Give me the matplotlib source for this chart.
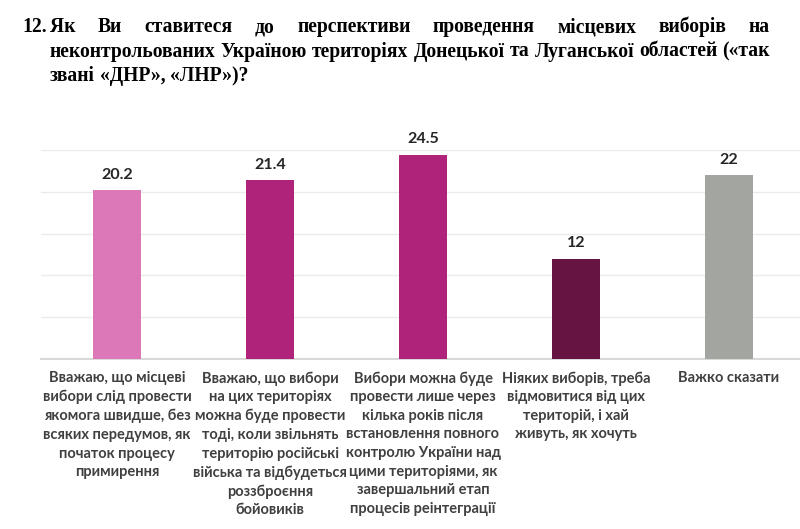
import matplotlib
matplotlib.use("Agg")
import matplotlib.pyplot as plt

categories = [
    "Вважаю, що місцеві\nвибори слід провести\nякомога швидше, без\nвсяких передумов, як\nпочаток процесу\nпримирення",
    "Вважаю, що вибори\nна цих територіях\nможна буде провести\nтоді, коли звільнять\nтериторію російські\nвійська та відбудеться\nроззброєння\nбойовиків",
    "Вибори можна буде\nпровести лише через\nкілька років після\nвстановлення повного\nконтролю України над\nцими територіями, як\nзавершальний етап\nпроцесів реінтеграції",
    "Ніяких виборів, треба\nвідмовитися від цих\nтериторій, і хай\nживуть, як хочуть",
    "Важко сказати",
]
values = [20.2, 21.4, 24.5, 12, 22]
value_labels = ["20.2", "21.4", "24.5", "12", "22"]
colors = ["#DC78B8", "#B0237A", "#B0237A", "#661442", "#A3A5A0"]
title_lines = [
    "Як Ви ставитеся до перспективи проведення місцевих виборів на",
    "неконтрольованих Україною територіях Донецької та Луганської областей («так",
    "звані «ДНР», «ЛНР»)?",
]
title_number = "12."

W, H = 800, 529
fig = plt.figure(figsize=(W / 100, H / 100), dpi=100)
ax = fig.add_axes([40.5 / W, 1 - 358.7 / H, 765 / W, (358.7 - 150.5) / H])

x = list(range(len(values)))
ax.bar(x, values, width=0.31, color=colors, zorder=3)
ax.set_xlim(-0.5, len(values) - 0.5)
ax.set_ylim(0, 25)
ax.set_yticks([0, 5, 10, 15, 20, 25])
ax.yaxis.grid(True, color="#EBEBEB", linewidth=1.0, zorder=0)
ax.tick_params(left=False, bottom=False, labelleft=False, labelbottom=False)
for s in ["left", "right", "top"]:
    ax.spines[s].set_visible(False)
ax.spines["bottom"].set_color("#D9D9D9")
ax.spines["bottom"].set_linewidth(1.5)

for xi, v, lab in zip(x, values, value_labels):
    ax.annotate(lab, (xi, v), xytext=(0, 6), textcoords="offset points",
                ha="center", va="bottom", fontsize=11.5, fontweight="bold",
                family="Lato", color="#262626", clip_on=False)

for xi, cat in zip(x, categories):
    ax.annotate(cat, (xi, 0), xytext=(0, -9), textcoords="offset points",
                ha="center", va="top", fontsize=10.5, fontweight="bold",
                family="Lato", color="#404040", linespacing=1.42,
                annotation_clip=False)

# Title with justified lines
fig.canvas.draw()
renderer = fig.canvas.get_renderer()
left_px, right_px = 50, 770
probe = fig.text(0, 0, title_lines[1], family="Liberation Serif", fontweight="bold", fontsize=12)
nat = probe.get_window_extent(renderer).width
probe.remove()
tsize = 12 * (right_px - left_px - 4) / nat
tfont = dict(family="Liberation Serif", fontweight="bold", fontsize=tsize, color="black")
line_y = [27, 51.5, 76]
fig.text(22 / W, 1 - line_y[0] / H, title_number, va="center", ha="left", **tfont)

def justify(line, y_px, justify_line=True):
    words = line.split(" ")
    objs = [fig.text(0, 1 - y_px / H, w, va="center", ha="left", **tfont) for w in words]
    widths = [o.get_window_extent(renderer).width for o in objs]
    if justify_line and len(words) > 1:
        gap = (right_px - left_px - sum(widths)) / (len(words) - 1)
    else:
        sp = fig.text(0, 0, "a a", **tfont)
        sp2 = fig.text(0, 0, "aa", **tfont)
        gap = sp.get_window_extent(renderer).width - sp2.get_window_extent(renderer).width
        sp.remove(); sp2.remove()
    xpos = left_px
    for o, w in zip(objs, widths):
        o.set_x(xpos / W)
        xpos += w + gap

justify(title_lines[0], line_y[0], True)
justify(title_lines[1], line_y[1], True)
justify(title_lines[2], line_y[2], False)

fig.savefig("out.png", dpi=100)
